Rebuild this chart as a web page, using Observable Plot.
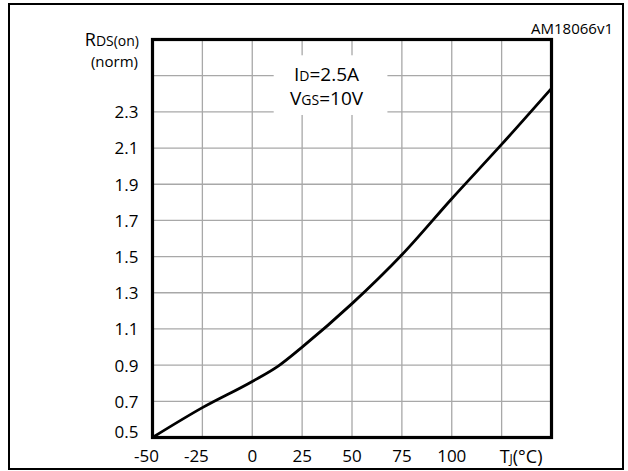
<!DOCTYPE html>
<html><head><meta charset="utf-8">
<script src="https://cdn.jsdelivr.net/npm/d3@7"></script>
<script src="https://cdn.jsdelivr.net/npm/@observablehq/plot@0.6"></script>
<style>
body{margin:0;background:#fff;}
#chart{position:relative;width:628px;height:471px;}
</style></head><body><div id="chart"></div>
<script>
// Data
const tempC   = [-50, -25, 0, 13, 25, 50, 75, 100, 125, 150];
const rdsNorm = [0.50, 0.665, 0.81, 0.895, 1.0, 1.24, 1.51, 1.82, 2.12, 2.43];
const xTickValues = [-50, -25, 0, 25, 50, 75, 100];
const xGridValues = [-25, 0, 25, 50, 75, 100, 125];
const yTickValues = [0.5, 0.7, 0.9, 1.1, 1.3, 1.5, 1.7, 1.9, 2.1, 2.3];
const yGridValues = [0.7, 0.9, 1.1, 1.3, 1.5, 1.7, 1.9, 2.1, 2.3, 2.5];
const xDomain = [-50, 150];
const yDomain = [0.5, 2.7];
const noteBox = [{x1: 11, x2: 68, y1: 2.28, y2: 2.61}];
const noteX = 37.5;
const noteLines = [
  {y: 2.47, main: "I", sub: "D", rest: "=2.5A"},
  {y: 2.335, main: "V", sub: "GS", rest: "=10V"}
];
const xUnitLabelAt = 135;
const chartId = "AM18066v1";

const curve = tempC.map((t, i) => ({t, r: rdsNorm[i]}));
const FONT = "'Open Sans', sans-serif";

const plot = Plot.plot({
  width: 628,
  height: 471,
  marginLeft: 152,
  marginRight: 77,
  marginTop: 39,
  marginBottom: 34,
  style: {fontSize: "17px", fontFamily: FONT, color: "black", background: "white"},
  x: {domain: xDomain, label: null},
  y: {domain: yDomain, label: null},
  marks: [
    Plot.ruleX(xGridValues, {stroke: "#a8a8a8", strokeWidth: 1.3}),
    Plot.ruleY(yGridValues, {stroke: "#a8a8a8", strokeWidth: 1.3}),
    Plot.rect(noteBox, {x1: "x1", x2: "x2", y1: "y1", y2: "y2", fill: "white"}),
    Plot.line(curve, {x: "t", y: "r", stroke: "black", strokeWidth: 2.8, curve: "monotone-x"}),
    Plot.frame({stroke: "black", strokeWidth: 3.2}),
    Plot.axisX(xTickValues.filter(d => d < 0), {tickSize: 0, tickPadding: 12, dx: -6, tickFormat: d => String(d)}),
    Plot.axisX(xTickValues.filter(d => d >= 0), {tickSize: 0, tickPadding: 12, tickFormat: d => String(d)}),
    Plot.axisY(yTickValues.filter(d => d > 0.5), {tickSize: 0, tickPadding: 14, dy: 1, tickFormat: d => d.toFixed(1)}),
    Plot.axisY(yTickValues.filter(d => d === 0.5), {tickSize: 0, tickPadding: 14, dy: -5, tickFormat: d => d.toFixed(1)})
  ]
});
document.getElementById("chart").appendChild(plot);

const svg = d3.select(plot);
const sx = plot.scale("x"), sy = plot.scale("y");
const x = v => sx.apply(v), y = v => sy.apply(v);

// outer border
svg.append("rect").attr("x", 9).attr("y", 4).attr("width", 614).attr("height", 465)
  .attr("fill", "none").attr("stroke", "black").attr("stroke-width", 2);

function mixed(px, py, parts, anchor) {
  const t = svg.append("text").attr("x", px).attr("y", py).attr("text-anchor", anchor)
    .attr("font-family", FONT).attr("fill", "black");
  parts.forEach(([s, fs]) => t.append("tspan").attr("font-size", fs).text(s));
  return t;
}

// chart id
mixed(613, 34, [[chartId, 15]], "end");
// y label
mixed(139, 46, [["R", 18], ["DS(on)", 14]], "end");
mixed(138, 67, [["(norm)", 15]], "end");
// x unit label
mixed(x(xUnitLabelAt), 463, [["T", 18], ["J", 12], ["(°C)", 18]], "middle");
// annotation
noteLines.forEach(l => mixed(x(noteX), y(l.y), [[l.main, 19], [l.sub, 14], [l.rest, 19]], "middle"));
</script></body></html>
